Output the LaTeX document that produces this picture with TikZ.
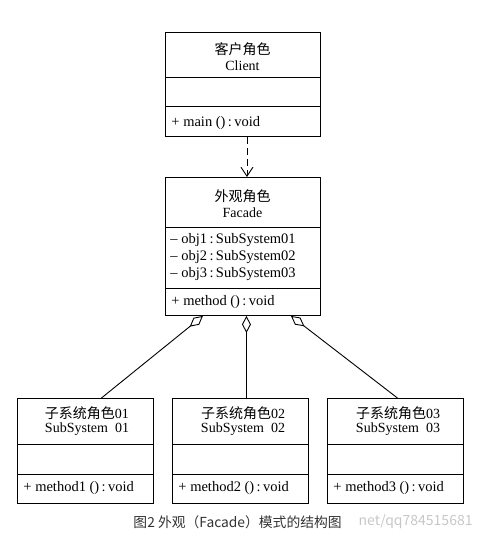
\documentclass[tikz,border=0pt]{standalone}
\usepackage{fontspec}
\setmainfont{Liberation Serif}
\newfontfamily\cjk{Noto Sans CJK SC}
\usetikzlibrary{arrows.meta}
\begin{document}
\begin{tikzpicture}[x=1pt,y=-1pt,line width=0.9pt,
  box/.style={draw,anchor=north west,inner sep=0pt},
  ttl/.style={font=\fontsize{14}{16}\selectfont},
  mem/.style={anchor=west,inner sep=0pt,font=\fontsize{14.5}{16}\selectfont},
  agg/.style={{Diamond[open,length=17pt,width=9pt]}-}]
\useasboundingbox (0,0) rectangle (478,539);
% Client
\node[box,minimum width=155pt,minimum height=104pt] (client) at (165,32) {};
\draw (client.north west) ++(0,45) -- ++(155,0);
\draw (client.north west) ++(0,74) -- ++(155,0);
\node[ttl] (clientA) at (242.5,49) {\cjk 客户角色};
\node[ttl] (clientB) at (242.5,66) {Client};
\node[mem] (clientM) at (171,123) {+ main ()\,:\,void};
% Facade
\node[box,minimum width=155pt,minimum height=138pt] (facade) at (165,177) {};
\draw (facade.north west) ++(0,50) -- ++(155,0);
\draw (facade.north west) ++(0,111) -- ++(155,0);
\node[ttl] (facadeA) at (242.5,196) {\cjk 外观角色};
\node[ttl] (facadeB) at (242.5,213) {Facade};
\node[mem] (o1) at (170,240) {-- obj1\,:\,SubSystem01};
\node[mem] (o2) at (170,257) {-- obj2\,:\,SubSystem02};
\node[mem] (o3) at (170,274) {-- obj3\,:\,SubSystem03};
\node[mem] (facadeM) at (171,302) {+ method ()\,:\,void};
% Subsystems
\node[box,minimum width=136pt,minimum height=105pt] (s1) at (17,398) {};
\node[box,minimum width=136pt,minimum height=105pt] (s2) at (172,398) {};
\node[box,minimum width=136pt,minimum height=105pt] (s3) at (327,398) {};
\foreach \s in {s1,s2,s3}{
  \draw (\s.north west) ++(0,46) -- ++(136,0);
  \draw (\s.north west) ++(0,76) -- ++(136,0);
}
\node[ttl] (s1A) at (87,413) {{\cjk 子系统角色}01};
\node[ttl] (s1B) at (87,429) {SubSystem~~01};
\node[mem] (s1M) at (23,488) {+ method1 ()\,:\,void};
\node[ttl] (s2A) at (243,413) {{\cjk 子系统角色}02};
\node[ttl] (s2B) at (243,429) {SubSystem~~02};
\node[mem] (s2M) at (178,488) {+ method2 ()\,:\,void};
\node[ttl] (s3A) at (398,413) {{\cjk 子系统角色}03};
\node[ttl] (s3B) at (398,429) {SubSystem~~03};
\node[mem] (s3M) at (333,488) {+ method3 ()\,:\,void};
% connectors
\draw[dash pattern=on 7pt off 4pt,-{Straight Barb[length=9pt,width=12pt]}]
  ([xshift=4pt]client.south) -- ([xshift=4pt]facade.north);
\draw[agg] ([xshift=-40pt]facade.south) -- ([xshift=16pt]s1.north);
\draw[agg] ([xshift=3.5pt]facade.south) -- ([xshift=6pt]s2.north);
\draw[agg] ([xshift=48pt]facade.south) -- ([xshift=2pt]s3.north);
% caption
\node[anchor=west,inner sep=0pt,text=black!80,font=\fontsize{13.8}{16}\selectfont\cjk] (cap) at (133,522) {图2 外观（Facade）模式的结构图};
\node[anchor=east,inner sep=0pt,text=black!22,font=\fontsize{14}{16}\selectfont\cjk] (wm) at (473,522) {net/qq784515681};
\end{tikzpicture}
\end{document}
